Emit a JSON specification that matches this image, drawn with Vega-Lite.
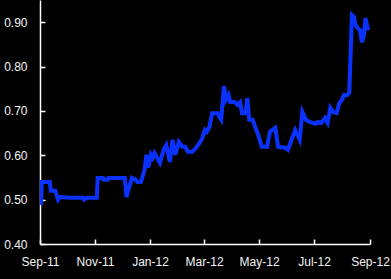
{
  "$schema": "https://vega.github.io/schema/vega-lite/v6.json",
  "width": 330,
  "height": 244,
  "autosize": {"type": "none"},
  "padding": {"left": 40, "top": 0, "right": 21, "bottom": 35},
  "background": "#000000",
  "config": {
    "view": {"stroke": null},
    "axis": {
      "grid": false,
      "domainColor": "#ffffff",
      "domainWidth": 1.5,
      "tickColor": "#ffffff",
      "tickWidth": 1.5,
      "tickSize": -5,
      "labelColor": "#f5f5f5",
      "labelFont": "Liberation Sans",
      "labelFontSize": 12,
      "title": null
    }
  },
  "data": {
    "values": [
      {"date": "2011-09-02", "v": 0.488},
      {"date": "2011-09-03", "v": 0.540},
      {"date": "2011-09-12", "v": 0.540},
      {"date": "2011-09-13", "v": 0.520},
      {"date": "2011-09-18", "v": 0.520},
      {"date": "2011-09-21", "v": 0.500},
      {"date": "2011-09-23", "v": 0.506},
      {"date": "2011-10-04", "v": 0.504},
      {"date": "2011-10-19", "v": 0.504},
      {"date": "2011-10-20", "v": 0.500},
      {"date": "2011-10-23", "v": 0.504},
      {"date": "2011-11-03", "v": 0.504},
      {"date": "2011-11-04", "v": 0.549},
      {"date": "2011-11-10", "v": 0.549},
      {"date": "2011-11-11", "v": 0.545},
      {"date": "2011-11-15", "v": 0.545},
      {"date": "2011-11-16", "v": 0.549},
      {"date": "2011-12-04", "v": 0.549},
      {"date": "2011-12-06", "v": 0.506},
      {"date": "2011-12-08", "v": 0.522},
      {"date": "2011-12-12", "v": 0.549},
      {"date": "2011-12-16", "v": 0.545},
      {"date": "2011-12-18", "v": 0.540},
      {"date": "2011-12-22", "v": 0.540},
      {"date": "2011-12-26", "v": 0.567},
      {"date": "2011-12-28", "v": 0.601},
      {"date": "2011-12-30", "v": 0.572},
      {"date": "2012-01-02", "v": 0.601},
      {"date": "2012-01-04", "v": 0.594},
      {"date": "2012-01-06", "v": 0.605},
      {"date": "2012-01-12", "v": 0.583},
      {"date": "2012-01-16", "v": 0.612},
      {"date": "2012-01-19", "v": 0.623},
      {"date": "2012-01-23", "v": 0.585},
      {"date": "2012-01-26", "v": 0.635},
      {"date": "2012-01-29", "v": 0.601},
      {"date": "2012-02-02", "v": 0.630},
      {"date": "2012-02-06", "v": 0.619},
      {"date": "2012-02-09", "v": 0.619},
      {"date": "2012-02-12", "v": 0.608},
      {"date": "2012-02-17", "v": 0.608},
      {"date": "2012-02-21", "v": 0.617},
      {"date": "2012-02-25", "v": 0.628},
      {"date": "2012-02-28", "v": 0.639},
      {"date": "2012-03-02", "v": 0.657},
      {"date": "2012-03-04", "v": 0.653},
      {"date": "2012-03-07", "v": 0.664},
      {"date": "2012-03-10", "v": 0.695},
      {"date": "2012-03-16", "v": 0.695},
      {"date": "2012-03-18", "v": 0.686},
      {"date": "2012-03-20", "v": 0.680},
      {"date": "2012-03-23", "v": 0.756},
      {"date": "2012-03-25", "v": 0.725},
      {"date": "2012-03-28", "v": 0.736},
      {"date": "2012-03-30", "v": 0.720},
      {"date": "2012-04-04", "v": 0.720},
      {"date": "2012-04-07", "v": 0.714},
      {"date": "2012-04-10", "v": 0.720},
      {"date": "2012-04-12", "v": 0.695},
      {"date": "2012-04-16", "v": 0.695},
      {"date": "2012-04-18", "v": 0.729},
      {"date": "2012-04-20", "v": 0.680},
      {"date": "2012-04-24", "v": 0.680},
      {"date": "2012-04-27", "v": 0.662},
      {"date": "2012-04-30", "v": 0.646},
      {"date": "2012-05-04", "v": 0.619},
      {"date": "2012-05-10", "v": 0.619},
      {"date": "2012-05-13", "v": 0.653},
      {"date": "2012-05-19", "v": 0.662},
      {"date": "2012-05-22", "v": 0.619},
      {"date": "2012-05-30", "v": 0.617},
      {"date": "2012-06-02", "v": 0.612},
      {"date": "2012-06-06", "v": 0.635},
      {"date": "2012-06-10", "v": 0.657},
      {"date": "2012-06-15", "v": 0.635},
      {"date": "2012-06-18", "v": 0.698},
      {"date": "2012-06-22", "v": 0.680},
      {"date": "2012-06-26", "v": 0.675},
      {"date": "2012-07-03", "v": 0.671},
      {"date": "2012-07-05", "v": 0.675},
      {"date": "2012-07-09", "v": 0.673},
      {"date": "2012-07-13", "v": 0.684},
      {"date": "2012-07-16", "v": 0.673},
      {"date": "2012-07-19", "v": 0.707},
      {"date": "2012-07-22", "v": 0.698},
      {"date": "2012-07-26", "v": 0.695},
      {"date": "2012-07-29", "v": 0.718},
      {"date": "2012-08-01", "v": 0.725},
      {"date": "2012-08-03", "v": 0.736},
      {"date": "2012-08-07", "v": 0.736},
      {"date": "2012-08-09", "v": 0.741},
      {"date": "2012-08-12", "v": 0.916},
      {"date": "2012-08-14", "v": 0.912},
      {"date": "2012-08-16", "v": 0.894},
      {"date": "2012-08-18", "v": 0.887},
      {"date": "2012-08-21", "v": 0.882},
      {"date": "2012-08-23", "v": 0.855},
      {"date": "2012-08-25", "v": 0.867},
      {"date": "2012-08-27", "v": 0.909},
      {"date": "2012-08-30", "v": 0.882}
    ]
  },
  "mark": {"type": "line", "color": "#0a32ff", "strokeWidth": 4, "strokeJoin": "miter", "clip": true},
  "encoding": {
    "x": {
      "field": "date",
      "type": "temporal",
      "scale": {
        "type": "utc",
        "domain": [
          {"year": 2011, "month": 9, "date": 1, "utc": true},
          {"year": 2012, "month": 9, "date": 1, "utc": true}
        ]
      },
      "axis": {
        "format": "%b-%y",
        "labelPadding": 17,
        "values": [
          {"year": 2011, "month": 9, "date": 1, "utc": true},
          {"year": 2011, "month": 11, "date": 1, "utc": true},
          {"year": 2012, "month": 1, "date": 1, "utc": true},
          {"year": 2012, "month": 3, "date": 1, "utc": true},
          {"year": 2012, "month": 5, "date": 1, "utc": true},
          {"year": 2012, "month": 7, "date": 1, "utc": true},
          {"year": 2012, "month": 9, "date": 1, "utc": true}
        ],
        "labelFlush": false,
        "labelOverlap": false
      }
    },
    "y": {
      "field": "v",
      "type": "quantitative",
      "scale": {"domain": [0.4, 0.95], "nice": false, "zero": false},
      "axis": {
        "format": ".2f",
        "values": [0.4, 0.5, 0.6, 0.7, 0.8, 0.9],
        "labelPadding": 18,
        "labelFlush": false
      }
    }
  }
}
